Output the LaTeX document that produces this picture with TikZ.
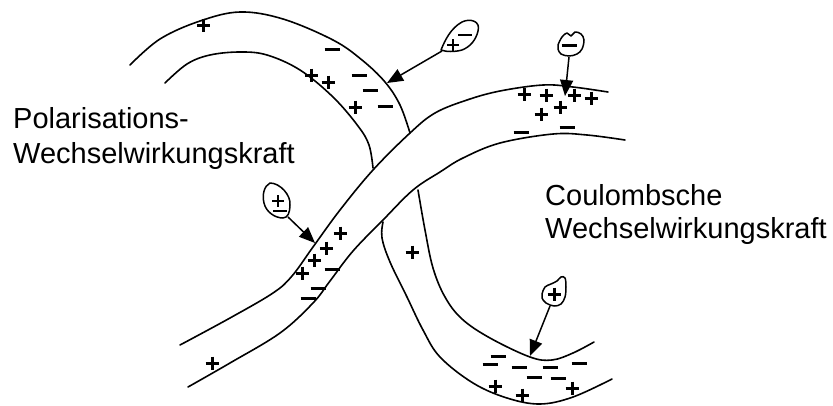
\documentclass[tikz,border=0pt]{standalone}
\usepackage{fontspec}
\setmainfont{Liberation Sans}
\usetikzlibrary{arrows.meta}
\begin{document}
\begin{tikzpicture}[x=1pt,y=-1pt,
  fibre/.style={line width=1.6pt, line cap=round, line join=round},
  charge/.style={line width=3pt},
  fine charge/.style={line width=1.6pt},
  probe/.style={line width=1.5pt, line join=round},
  pointer/.style={line width=1.5pt, -{Triangle[length=16pt,width=13pt]}},
  label/.style={font=\fontsize{29}{34}\selectfont, inner sep=0pt, anchor=base west},
  plus/.pic={\draw[charge] (-6.5,0)--(6.5,0) (0,-6.5)--(0,6.5);},
  minus/.pic={\draw[charge] (-7.5,0)--(7.5,0);},
  fplus/.pic={\draw[fine charge] (-6,0)--(6,0) (0,-6)--(0,6);},
  fminus/.pic={\draw[fine charge] (-7,0)--(7,0);},
]
\useasboundingbox (0,0) rectangle (833,405);

% ---- fibre 2 (lies on top, drawn in full) ----
\draw[fibre] plot[smooth, tension=0.6] coordinates {
  (180,345) (230,318) (273,293) (292,276) (313,247) (340,210) (373,170)
  (410,133) (435,113) (467,100) (500,91) (543,85) (573,87) (608,92)};
\draw[fibre] plot[smooth, tension=0.6] coordinates {
  (188,387) (230,363) (280,333) (313,303) (330,281) (353,251) (383,220)
  (413,190) (440,172) (463,158) (500,143) (553,134) (587,135) (625,140)};

% ---- fibre 1, upper part ----
\draw[fibre] plot[smooth, tension=0.6] coordinates {
  (130,65) (160,39) (200,21) (240,12) (283,19) (333,40) (362,60)
  (385,82) (400,105) (410,133)};
\draw[fibre] plot[smooth, tension=0.6] coordinates {
  (165,83) (187,64) (210,55) (240,52) (267,55) (300,70) (333,97)
  (358,126) (369,145) (373,168)};

% ---- fibre 1, lower part ----
\draw[fibre] plot[smooth, tension=0.6] coordinates {
  (418,190) (425,230) (433,268) (445,297) (462,319) (490,338) (530,357)
  (552,360) (573,353) (594,342)};
\draw[fibre] plot[smooth, tension=0.6] coordinates {
  (383,222) (382,238) (390,262) (407,297) (423,330) (440,357) (473,383)
  (507,398) (540,404) (573,397) (612,379)};

% ---- charges ----
\foreach \p in {(203,25),(311,75),(328,82),(355,107),
                (524,94),(546,95),(574,95),(591,98),(560,107),(541,114),
                (340,233),(326,248),(314,260),(302,273),(212,363),(412,252),
                (495,386),(522,395),(572,388)}
  \pic at \p {plus};
\foreach \p in {(332,49),(359,75),(370,90),(385,106),
                (521,132),(567,127),
                (332,269),(318,288),(308,298),
                (498,356),(490,364),(519,367),(550,367),(579,363),(534,377),(558,378)}
  \pic at \p {minus};

% ---- probe particles ----
% dipole probe, upper
\draw[probe] (441,50) .. controls (445,40) and (451,28) .. (462,22)
  .. controls (470,18) and (481,21) .. (478,31)
  .. controls (476,40) and (470,47) .. (462,50)
  .. controls (455,52) and (446,52) .. (441,50) -- cycle;
\pic at (453,45) {fplus};
\pic at (465,35) {fminus};
\coordinate (p1) at (442,51);
\coordinate (t1) at (387,83);
\draw[pointer] (p1) -- (t1);

% negative probe
\draw[probe] plot[smooth cycle, tension=0.6] coordinates {
  (558,45) (562,37) (567,33) (571,36) (575,32) (581,34) (584,40)
  (582,49) (577,54) (569,56) (561,54) (558,49)};
\pic at (569,45) {minus};
\coordinate (p2) at (569,57);
\coordinate (t2) at (565,96);
\draw[pointer] (p2) -- (t2);

% dipole probe, left
\draw[probe] (270,183) .. controls (280,183) and (291,195) .. (290,205)
  .. controls (290,212) and (288,218) .. (283,218)
  .. controls (275,218) and (266,212) .. (264,203)
  .. controls (262,195) and (264,186) .. (270,183) -- cycle;
\pic at (278,201) {fplus};
\pic at (280,211) {fminus};
\coordinate (p3) at (288,217);
\coordinate (t3) at (315,243);
\draw[pointer] (p3) -- (t3);

% positive probe
\draw[probe] plot[smooth cycle, tension=0.6] coordinates {
  (542,294) (545,287) (551,284) (557,281) (561,277) (565,278) (566,287)
  (565,297) (561,304) (554,306) (546,303) (542,298)};
\pic at (554,294) {plus};
\coordinate (p4) at (550,306);
\coordinate (t4) at (530,356);
\draw[pointer] (p4) -- (t4);

% ---- labels ----
\node[label] (pol1) at (13,128) {Polarisations-};
\node[label] (pol2) at (13,163) {Wechselwirkungskraft};
\node[label] (cou1) at (545,205) {Coulombsche};
\node[label] (cou2) at (545,238) {Wechselwirkungskraft};
\end{tikzpicture}
\end{document}
